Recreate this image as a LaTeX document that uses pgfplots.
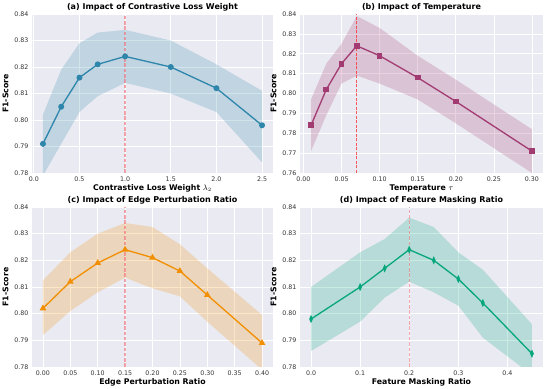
\documentclass[border=0pt]{standalone}
\usepackage{fontspec}
\setmainfont{DejaVu Sans}
\usepackage{pgfplots}
\pgfplotsset{compat=1.18}
\definecolor{bgc}{HTML}{EAEAF2}
\definecolor{ca}{HTML}{2E86AB}
\definecolor{cb}{HTML}{A23B72}
\definecolor{cc}{HTML}{F18F01}
\definecolor{cd}{HTML}{06A77D}
\definecolor{tk}{HTML}{333333}
\definecolor{vlc}{HTML}{F06A74}
\pgfplotsset{
  myax/.style={
    scale only axis, width=241pt, height=159pt,
    axis background/.style={fill=bgc},
    axis line style={draw=none},
    major tick length=0pt,
    grid=major, major grid style={white, line width=0.7pt},
    tick label style={font=\fontsize{6.3}{7}\selectfont, text=tk},
    /pgf/number format/assume math mode=true,
    label style={font=\bfseries\fontsize{7.8}{9}\selectfont},
    every axis title shift=0pt,
    title style={font=\bfseries\fontsize{8}{9}\selectfont, at={(0.5,1)}, anchor=south, yshift=-0.5pt},
    ylabel={F1-Score},
    ylabel style={yshift=-1pt},
    xlabel style={yshift=3.5pt},
    yticklabel style={/pgf/number format/.cd, fixed, fixed zerofill, precision=2},
    clip=true,
  },
}
\begin{document}
\begin{tikzpicture}
\path[use as bounding box] (0,0) rectangle (550pt,389pt);
% (a)
\begin{axis}[myax, at={(32pt,216pt)}, anchor=south west,
  title={(a) Impact of Contrastive Loss Weight},
  xlabel={Contrastive Loss Weight $\lambda_2$},
  xmin=-0.02, xmax=2.62, ymin=0.78, ymax=0.84,
  xtick={0,0.5,1,1.5,2,2.5}, ytick={0.78,0.79,0.80,0.81,0.82,0.83,0.84},
  xticklabel style={/pgf/number format/.cd, fixed, fixed zerofill, precision=1}]
\addplot[fill=ca, fill opacity=0.22, draw=none] coordinates {(0.1,0.802) (0.3,0.819) (0.5,0.829) (0.7,0.833) (1.0,0.834) (1.5,0.830) (2.0,0.821) (2.5,0.811)
 (2.5,0.784) (2.0,0.803) (1.5,0.810) (1.0,0.814) (0.7,0.809) (0.5,0.803) (0.3,0.791) (0.1,0.779)} -- cycle;
\addplot[draw=vlc, line width=1.4pt, dash pattern=on 3.5pt off 1.8pt, opacity=0.6] coordinates {(1,0.78) (1,0.84)};
\addplot[ca, line width=1.3pt, mark=*, mark size=2.3pt] coordinates {(0.1,0.791) (0.3,0.805) (0.5,0.816) (0.7,0.821) (1.0,0.824) (1.5,0.820) (2.0,0.812) (2.5,0.798)};
\end{axis}
% (b)
\begin{axis}[myax, width=243pt, at={(300pt,216pt)}, anchor=south west,
  title={(b) Impact of Temperature},
  xlabel={Temperature $\tau$},
  xmin=-0.0045, xmax=0.3145, ymin=0.76, ymax=0.84,
  xtick={0,0.05,0.1,0.15,0.2,0.25,0.3}, ytick={0.76,0.77,0.78,0.79,0.80,0.81,0.82,0.83,0.84},
  xticklabel style={/pgf/number format/.cd, fixed, fixed zerofill, precision=2}]
\addplot[fill=cb, fill opacity=0.22, draw=none] coordinates {(0.01,0.797) (0.03,0.815) (0.05,0.825) (0.07,0.839) (0.1,0.833) (0.15,0.819) (0.2,0.807) (0.3,0.782)
 (0.3,0.760) (0.2,0.785) (0.15,0.797) (0.1,0.805) (0.07,0.809) (0.05,0.805) (0.03,0.789) (0.01,0.771)} -- cycle;
\addplot[draw=red!85, line width=0.9pt, dash pattern=on 3pt off 1.5pt, opacity=0.75] coordinates {(0.07,0.76) (0.07,0.84)};
\addplot[cb, line width=1.3pt, mark=square*, mark size=2.2pt] coordinates {(0.01,0.784) (0.03,0.802) (0.05,0.815) (0.07,0.824) (0.1,0.819) (0.15,0.808) (0.2,0.796) (0.3,0.771)};
\end{axis}
% (c)
\begin{axis}[myax, height=160pt, at={(32pt,22pt)}, anchor=south west,
  title={(c) Impact of Edge Perturbation Ratio},
  xlabel={Edge Perturbation Ratio},
  xmin=-0.02, xmax=0.42, ymin=0.78, ymax=0.84,
  xtick={0,0.05,0.1,0.15,0.2,0.25,0.3,0.35,0.4}, ytick={0.78,0.79,0.80,0.81,0.82,0.83,0.84},
  xticklabel style={/pgf/number format/.cd, fixed, fixed zerofill, precision=2}]
\addplot[fill=cc, fill opacity=0.22, draw=none] coordinates {(0,0.8125) (0.05,0.823) (0.1,0.830) (0.15,0.834) (0.2,0.8325) (0.25,0.826) (0.3,0.817) (0.4,0.7995)
 (0.4,0.779) (0.3,0.797) (0.25,0.8065) (0.2,0.8095) (0.15,0.8135) (0.1,0.808) (0.05,0.801) (0,0.792)} -- cycle;
\addplot[draw=vlc, line width=1.4pt, dash pattern=on 3.5pt off 1.8pt, opacity=0.6] coordinates {(0.15,0.78) (0.15,0.84)};
\addplot[cc, line width=1.3pt, mark=triangle*, mark size=2.6pt] coordinates {(0,0.802) (0.05,0.812) (0.1,0.819) (0.15,0.824) (0.2,0.821) (0.25,0.816) (0.3,0.807) (0.4,0.789)};
\end{axis}
% (d)
\begin{axis}[myax, width=243pt, height=160pt, at={(300pt,22pt)}, anchor=south west,
  title={(d) Impact of Feature Masking Ratio},
  xlabel={Feature Masking Ratio},
  xmin=-0.0225, xmax=0.4725, ymin=0.78, ymax=0.84,
  xtick={0,0.1,0.2,0.3,0.4}, ytick={0.78,0.79,0.80,0.81,0.82,0.83,0.84},
  xticklabel style={/pgf/number format/.cd, fixed, fixed zerofill, precision=1}]
\addplot[fill=cd, fill opacity=0.22, draw=none] coordinates {(0,0.810) (0.1,0.823) (0.15,0.828) (0.2,0.836) (0.25,0.8325) (0.3,0.823) (0.35,0.8165) (0.45,0.796)
 (0.45,0.777) (0.35,0.791) (0.3,0.803) (0.25,0.808) (0.2,0.812) (0.15,0.806) (0.1,0.797) (0,0.786)} -- cycle;
\addplot[draw=vlc, line width=1.4pt, dash pattern=on 3.5pt off 1.8pt, opacity=0.6] coordinates {(0.2,0.78) (0.2,0.84)};
\addplot[cd, line width=1.3pt, mark=diamond*, mark size=2.6pt, mark options={xscale=0.6}] coordinates {(0,0.798) (0.1,0.810) (0.15,0.817) (0.2,0.824) (0.25,0.820) (0.3,0.813) (0.35,0.804) (0.45,0.785)};
\end{axis}
\end{tikzpicture}
\end{document}
